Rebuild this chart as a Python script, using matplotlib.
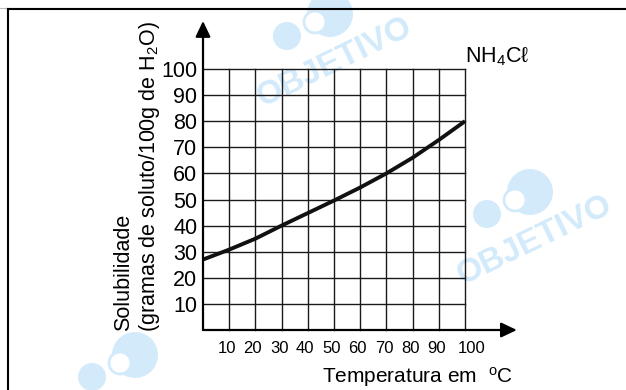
import matplotlib
matplotlib.use('Agg')
import matplotlib.pyplot as plt
from matplotlib.patches import Circle
from matplotlib.lines import Line2D
from matplotlib.transforms import ScaledTranslation

plt.rcParams['font.family'] = ['Liberation Sans', 'DejaVu Sans']
plt.rcParams['mathtext.fontset'] = 'custom'
plt.rcParams['mathtext.rm'] = 'Liberation Sans'
plt.rcParams['mathtext.it'] = 'Liberation Sans:italic'

# ---- data ----
temperature = [0, 10, 20, 30, 40, 50, 60, 70, 80, 90, 100]
solubility = [27, 30.8, 35, 40, 44.8, 49.6, 54.6, 60, 66, 72.8, 80]
x_ticks = [10, 20, 30, 40, 50, 60, 70, 80, 90, 100]
x_tick_labels = ['10', '20', '30', '40', '50', '60', '70', '80', '90', '100']
y_ticks = [10, 20, 30, 40, 50, 60, 70, 80, 90, 100]
y_tick_labels = ['10', '20', '30', '40', '50', '60', '70', '80', '90', '100']
x_label = r'Temperatura em  $^{\mathrm{o}}$C'
y_label_1 = 'Solubilidade'
y_label_2 = r'(gramas de soluto/100g de H$_2$O)'
series_label = r'NH$_4$Cℓ'
watermark = 'OBJETIVO'

W, H = 626, 390
fig = plt.figure(figsize=(W / 100, H / 100), dpi=100)


def fx(px):
    return px / W


def fy(py):
    return 1 - py / H


# ---- watermarks (behind everything) ----
wm_color = '#d3eafb'
for cx, cy, show_text in [(335, 62, True), (535, 240, True), (140, 403, False)]:
    if show_text:
        fig.text(fx(cx), fy(cy), watermark, rotation=26, ha='center', va='center',
                 fontsize=24, fontweight='bold', color=wm_color, zorder=-5,
                 rotation_mode='anchor')
    big = Circle(((cx - 5) / 100, (H - (cy - 48)) / 100), 0.23,
                 transform=fig.dpi_scale_trans, color=wm_color, zorder=-5, lw=0)
    inner = Circle(((cx - 20) / 100, (H - (cy - 40)) / 100), 0.11,
                   transform=fig.dpi_scale_trans, facecolor='white',
                   edgecolor=wm_color, zorder=-4, lw=2)
    small = Circle(((cx - 48) / 100, (H - (cy - 26)) / 100), 0.14,
                   transform=fig.dpi_scale_trans, color=wm_color, zorder=-5, lw=0)
    for p in (big, inner, small):
        fig.add_artist(p)

# ---- frame lines ----
fig.add_artist(Line2D([fx(0), 1], [fy(7.5), fy(7.5)], transform=fig.transFigure,
                      color='#bbbbbb', lw=0.8))
fig.add_artist(Line2D([fx(8), 1], [fy(9), fy(9)], transform=fig.transFigure,
                      color='black', lw=1.5))
fig.add_artist(Line2D([fx(8), fx(8)], [0, fy(9)], transform=fig.transFigure,
                      color='black', lw=1.5))

# ---- axes ----
ax = fig.add_axes([fx(203), 60 / H, 262 / W, 261 / H])
ax.patch.set_visible(False)
ax.set_xlim(0, 100)
ax.set_ylim(0, 100)
for s in ax.spines.values():
    s.set_visible(False)

ax.set_xticks(x_ticks)
ax.set_xticklabels(x_tick_labels, fontsize=12)
ax.set_yticks(y_ticks)
ax.set_yticklabels(y_tick_labels, fontsize=15.5)
ax.tick_params(axis='both', length=0)
ax.tick_params(axis='x', pad=8)
ax.tick_params(axis='y', pad=4)
ax.grid(True, color='#1a1a1a', lw=1.0)
for gl in ax.get_xgridlines() + ax.get_ygridlines():
    gl.set_clip_on(False)

# nudge x tick labels like the typeset original (last one pushed right)
xlabels = ax.get_xticklabels()
for i, lab in enumerate(xlabels):
    dx = 7 if i == len(xlabels) - 1 else -2.5
    lab.set_transform(lab.get_transform() +
                      ScaledTranslation(dx / 100, 0, fig.dpi_scale_trans))

ax.plot(temperature, solubility, color='#111111', lw=2.8,
        solid_capstyle='butt', solid_joinstyle='round', zorder=5, clip_on=False)

# axes arrows
ax.annotate('', xy=(119.8, 0), xytext=(0, 0),
            arrowprops=dict(arrowstyle='-|>,head_length=0.95,head_width=0.45',
                            color='black', lw=1.6, shrinkA=0, shrinkB=0),
            annotation_clip=False, zorder=6)
ax.annotate('', xy=(0, 118.4), xytext=(0, 0),
            arrowprops=dict(arrowstyle='-|>,head_length=0.95,head_width=0.45',
                            color='black', lw=1.6, shrinkA=0, shrinkB=0),
            annotation_clip=False, zorder=6)

# ---- texts ----
fig.text(fx(124), fy(331), y_label_1, rotation=90, ha='center', va='bottom',
         fontsize=15.5)
fig.text(fx(149), fy(332), y_label_2, rotation=90, ha='center', va='bottom',
         fontsize=15.5)
fig.text(fx(465), fy(62), series_label, ha='left', va='baseline', fontsize=15.5)
fig.text(fx(322), fy(383), x_label, ha='left', va='baseline', fontsize=15)

fig.savefig('out.png', dpi=100)
